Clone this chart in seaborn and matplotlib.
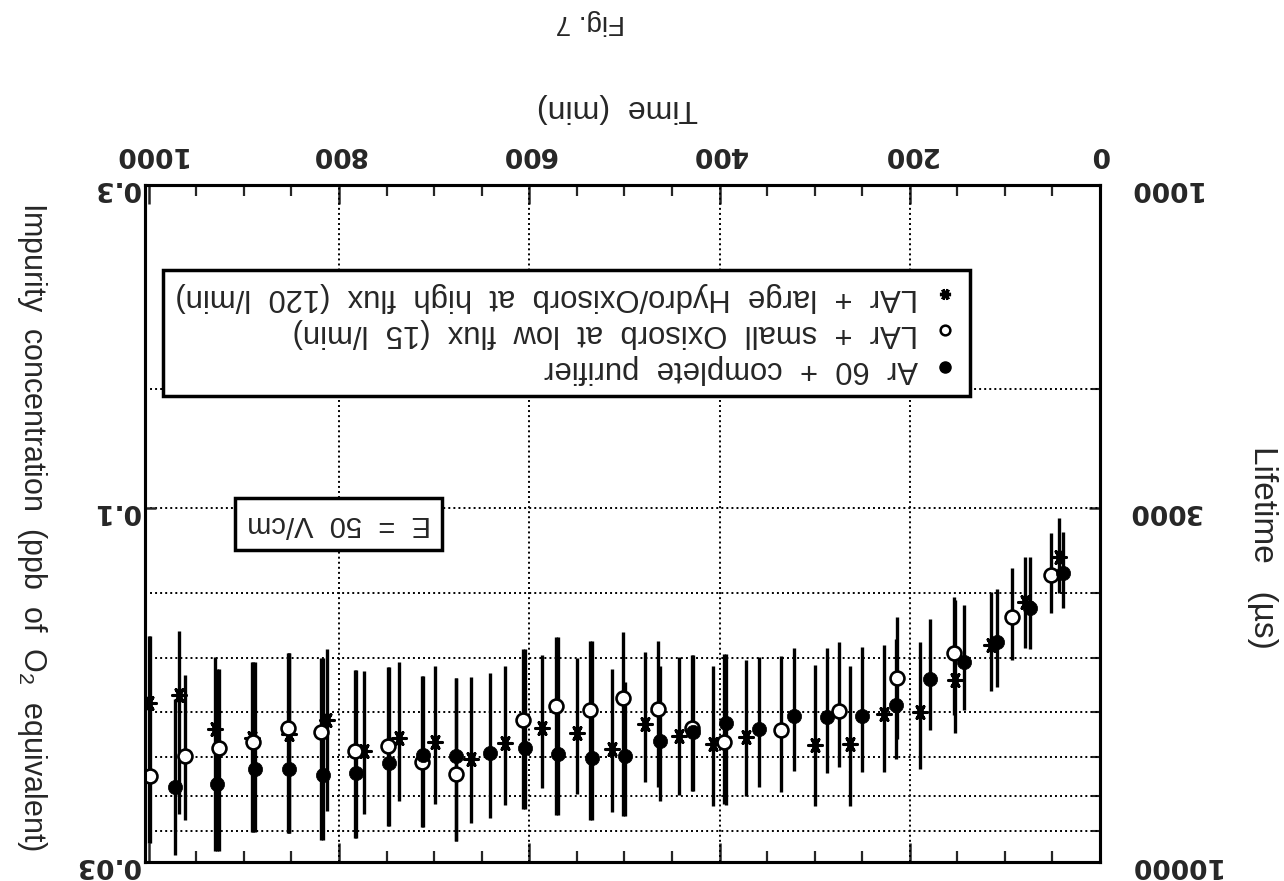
import matplotlib
matplotlib.use("Agg")
import matplotlib.pyplot as plt
from matplotlib.lines import Line2D
from matplotlib.ticker import FixedLocator, NullFormatter, NullLocator
import pandas as pd
import seaborn as sns

# Ar 60 + complete purifier (filled circles)
ar60_time = [39, 74, 108, 143, 179, 214, 250, 287, 322, 358, 393, 428, 463, 499,
             534, 570, 605, 641, 677, 712, 747, 782, 817, 853, 888, 928, 972]
ar60_life = [3740, 4220, 4730, 5060, 5360, 5870, 6080, 6100, 6090, 6360, 6230, 6430, 6620, 6980,
             7020, 6930, 6790, 6900, 6970, 6940, 7140, 7390, 7440, 7290, 7280, 7670, 7750]
ar60_low = [3260, 3540, 3950, 4180, 4370, 4690, 4810, 4830, 4830, 4980, 4930, 4950, 5130, 5430,
            4710, 4660, 4840, 5260, 5350, 5310, 5160, 5210, 4990, 4920, 5060, 5190, 5740]
ar60_high = [4220, 4840, 5510, 5960, 6390, 7050, 7360, 7400, 7350, 7760, 8240, 7850, 8120, 8560,
             8660, 8520, 8360, 8610, 9310, 8870, 8860, 9220, 9280, 9050, 9040, 9640, 9760]

# LAr + small Oxisorb at low flux (open circles)
small_time = [52, 92, 153, 213, 274, 335, 395, 429, 465, 501, 536, 572, 607, 677,
              713, 748, 783, 819, 854, 890, 926, 962, 999]
small_life = [3770, 4340, 4910, 5340, 5980, 6390, 6650, 6340, 5950, 5730, 5960, 5880, 6160, 7420,
              7110, 6730, 6850, 6430, 6330, 6650, 6790, 6970, 7470]
small_low = [3270, 3680, 4060, 4340, 4730, 4970, 4930, 4950, 4710, 4580, 4710, 4660, 4840, 5350,
             5310, 5160, 5210, 4990, 4920, 5060, 5190, 5290, 4640]
small_high = [4290, 5030, 6060, 6590, 7230, 7870, 8210, 7850, 7760, 8560, 8660, 8520, 8360, 9310,
              8870, 8860, 9220, 9280, 9050, 9040, 9640, 8660, 9390]

# LAr + large Hydro/Oxisorb at high flux (asterisks)
large_time = [43, 79, 115, 152, 189, 227, 263, 300, 372, 407, 443, 478, 513, 550,
              587, 625, 661, 699, 737, 774, 813, 853, 891, 930, 968, 1000]
large_life = [3550, 4130, 4780, 5380, 6010, 6050, 6690, 6710, 6530, 6690, 6520, 6260, 6810, 6440,
              6350, 6670, 7050, 6660, 6560, 6850, 6170, 6470, 6550, 6370, 5670, 5820]
large_low = [3100, 3550, 3990, 4100, 4730, 4780, 5130, 5120, 5030, 5130, 4980, 4890, 5190, 4990,
             4940, 5140, 5330, 5130, 5070, 5230, 4840, 4920, 5060, 4980, 4560, 4640]
large_high = [4010, 4830, 5600, 6440, 7300, 7360, 8270, 8260, 7990, 8270, 7970, 7630, 8450, 7930,
              7770, 8250, 8760, 8210, 8120, 8500, 8400, 9050, 9040, 9640, 8490, 9390]

time_ticks = [0, 200, 400, 600, 800, 1000]
life_ticks = [1000, 3000, 10000]
life_minor = [2000, 3000, 4000, 5000, 6000, 7000, 8000, 9000]
imp_ticks = [0.03, 0.1, 0.3]
imp_labels = ["0.03", "0.1", "0.3"]

legend_labels = ["LAr  +  large  Hydro/Oxisorb  at  high  flux  (120  l/min)",
                 "LAr  +  small  Oxisorb  at  low  flux  (15  l/min)",
                 "Ar  60  +  complete  purifier"]

df_ar60 = pd.DataFrame({"t": ar60_time, "L": ar60_life, "lo": ar60_low, "hi": ar60_high})
df_small = pd.DataFrame({"t": small_time, "L": small_life, "lo": small_low, "hi": small_high})
df_large = pd.DataFrame({"t": large_time, "L": large_life, "lo": large_low, "hi": large_high})

sns.set_theme(style="white")
plt.rcParams["font.family"] = ["Liberation Sans", "DejaVu Sans"]

STAR = (6, 2, 90)
tickfont = {"family": "DejaVu Sans", "weight": "bold", "size": 19}

fig = plt.figure(figsize=(12.84, 8.81), dpi=100)
ax = fig.add_axes([0.1129, 0.0216, 0.7438, 0.7685])
ax2 = ax.twinx()

# lifetime axis (right side in the rotated scan)
ax.set_yscale("log")
ax.set_ylim(10000, 1000)
ax.set_xlim(1004, 2)
ax.yaxis.tick_right()
ax.yaxis.set_major_locator(FixedLocator(life_ticks))
ax.yaxis.set_minor_locator(FixedLocator(life_minor))
ax.yaxis.set_minor_formatter(NullFormatter())
ax.set_yticklabels([str(v) for v in life_ticks], rotation=180, fontdict=tickfont)
ax.tick_params(axis="y", which="major", direction="in", length=8, width=1.8, pad=20,
               right=True, left=False)
ax.tick_params(axis="y", which="minor", direction="in", length=6, width=1.5,
               right=True, left=False)

# time axis (top in the rotated scan)
ax.xaxis.tick_top()
ax.set_xticks(time_ticks)
ax.set_xticklabels([str(v) for v in time_ticks], rotation=180, fontdict=tickfont)
ax.xaxis.set_minor_locator(FixedLocator(list(range(0, 1001, 50))))
ax.tick_params(axis="x", which="major", direction="in", length=14, width=1.8, pad=13,
               top=True, bottom=True, labeltop=True, labelbottom=False)
ax.tick_params(axis="x", which="minor", direction="in", length=8, width=1.6,
               top=True, bottom=True)

# impurity axis (left side in the rotated scan)
ax2.set_yscale("log")
ax2.set_ylim(0.03, 0.3)
ax2.yaxis.tick_left()
ax2.yaxis.set_major_locator(FixedLocator(imp_ticks))
ax2.yaxis.set_minor_locator(NullLocator())
ax2.set_yticklabels(imp_labels, rotation=180, fontdict=tickfont)
ax2.tick_params(axis="y", which="major", direction="in", length=8, width=1.8, pad=4,
                left=True, right=False)

for a in (ax, ax2):
    for sp in a.spines.values():
        sp.set_linewidth(2.2)
        sp.set_color("black")

# dotted grid
grid_kw = dict(color="black", lw=1.4, ls=(0, (1, 1.6)), zorder=1)
for v in [200, 400, 600, 800]:
    ax.axvline(v, **grid_kw)
for v in life_minor:
    ax.axhline(v, **grid_kw)

# error bars + markers
for d in (df_ar60, df_small, df_large):
    ax.vlines(d["t"], d["lo"], d["hi"], color="black", lw=2.4, zorder=2)

sns.scatterplot(data=df_large, x="t", y="L", ax=ax, marker=STAR, s=95,
                color="black", edgecolor="black", linewidth=2.2, zorder=3)
sns.scatterplot(data=df_small, x="t", y="L", ax=ax, marker="o", s=100,
                color="white", edgecolor="black", linewidth=1.9, zorder=3)
sns.scatterplot(data=df_ar60, x="t", y="L", ax=ax, marker="o", s=105,
                color="black", edgecolor="black", linewidth=0.5, zorder=4)
ax.set_xlabel("")
ax.set_ylabel("")

# legend (drawn upside down, markers on the right)
handles = [
    Line2D([], [], ls="none", marker=STAR, ms=8, mec="black", mfc="black", mew=2.4),
    Line2D([], [], ls="none", marker="o", ms=7, mec="black", mfc="white", mew=1.8),
    Line2D([], [], ls="none", marker="o", ms=8, mec="black", mfc="black"),
]
leg = ax.legend(handles, legend_labels, loc="upper left", bbox_to_anchor=(0.019, 0.874),
                markerfirst=False, frameon=True, fancybox=False, framealpha=1,
                edgecolor="black", fontsize=22.3, handlelength=0.8, handletextpad=0.5,
                labelspacing=0.2, borderpad=0.38, borderaxespad=0)
leg.get_frame().set_linewidth(2.5)
for t in leg.get_texts():
    t.set_rotation(180)

ax.text(0.203, 0.499, "E  =  50  V/cm", transform=ax.transAxes, rotation=180,
        ha="center", va="center", fontsize=21, zorder=6,
        bbox=dict(boxstyle="square,pad=0.4", fc="white", ec="black", lw=2.5))

# axis titles and caption, all upside down like the scan
fig.text(0.4805, 0.8774, "Time  (min)", rotation=180, ha="center", va="center", fontsize=23)
fig.text(0.983, 0.379, "Lifetime   (\u00b5s)", rotation=270, ha="center", va="center", fontsize=24)
fig.text(0.025, 0.402, "Impurity  concentration  (ppb  of  O$_\\mathregular{2}$  equivalent)",
         rotation=270, ha="center", va="center", fontsize=22)
fig.text(0.4595, 0.975, "Fig. 7", rotation=180, ha="center", va="center", fontsize=20)

fig.savefig("out.png", dpi=100)
